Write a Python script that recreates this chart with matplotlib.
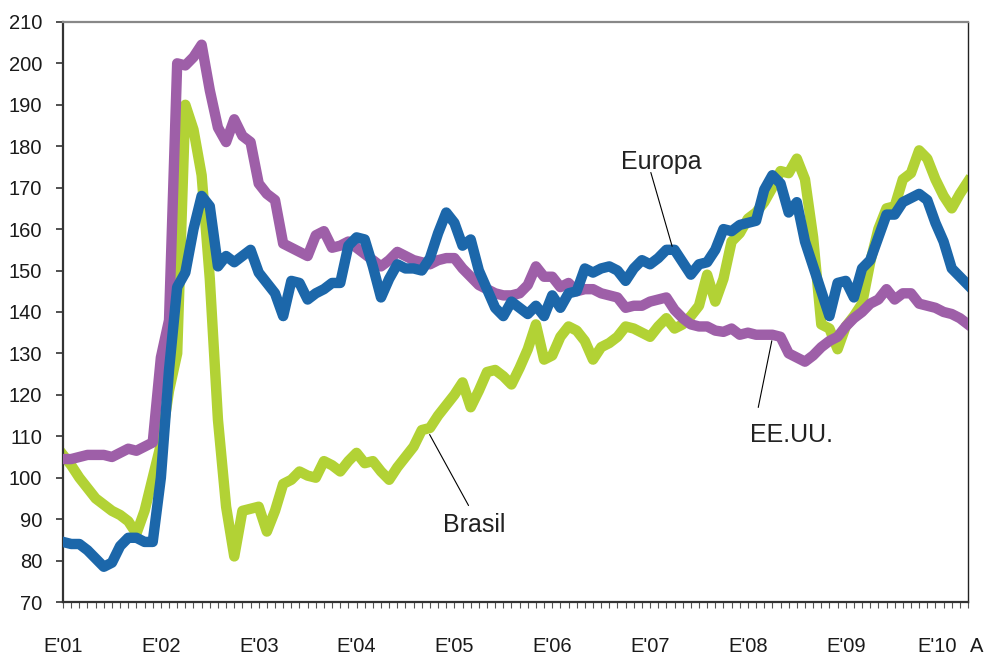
import numpy as np
import matplotlib
matplotlib.use("Agg")
import matplotlib.pyplot as plt
from matplotlib.ticker import FixedLocator
from matplotlib.transforms import ScaledTranslation

# Datos mensuales, enero 2001 - abril 2010
brasil = [105.5, 103, 100, 97.5, 95, 93.5, 92, 91, 89.5, 86.5,
          92, 100, 108, 121, 130, 190, 184, 173, 148, 114,
          93, 81, 92, 92.5, 93, 87, 92, 98.5, 99.5, 101.5,
          100.5, 100, 104, 103, 101.5, 104, 106, 103.5, 104, 101.5,
          99.5, 102.5, 105, 107.5, 111.5, 112, 115, 117.5, 120, 123,
          117, 121, 125.5, 126, 124.5, 122.5, 126.5, 131, 137, 128.5,
          129.5, 134, 136.5, 135.5, 133, 128.5, 131.5, 132.5, 134, 136.5,
          136, 135, 134, 136.5, 138.5, 136, 137, 139, 141.5, 149,
          142.5, 148, 157, 159, 162.5, 164, 166.5, 170, 174, 173.5,
          177, 172, 158, 137, 136, 131, 136.5, 139, 142, 152,
          160, 165, 165.5, 172, 173.5, 179, 177, 172, 168, 165,
          168.5, 171.5]

europa = [84.5, 84, 84, 82.5, 80.5, 78.5, 79.5, 83.5, 85.5, 85.5,
          84.5, 84.5, 100, 126, 146, 149.5, 160, 168, 165.5, 151,
          153.5, 152, 153.5, 155, 149.5, 147, 144.5, 139, 147.5, 147,
          143, 144.5, 145.5, 147, 147, 156, 158, 157.5, 151, 143.5,
          148, 151.5, 150.5, 150.5, 150, 153, 159, 164, 161.5, 156,
          157.5, 150, 145.5, 141, 139, 142.5, 141, 139.5, 141.5, 139,
          144, 141, 144.5, 145, 150.5, 149.5, 150.5, 151, 150, 147.5,
          150.5, 152.5, 151.5, 153, 155, 155, 152, 149, 151.5, 152,
          155, 160, 159.5, 161, 161.5, 162, 169.5, 173, 171, 164,
          166.5, 157, 151, 145, 139, 147, 147.5, 143.5, 150.5, 152.5,
          158, 163.5, 163.5, 166.5, 167.5, 168.5, 167, 161.5, 157, 150.5,
          148.5, 146.5]

eeuu = [104.5, 104.5, 105, 105.5, 105.5, 105.5, 105, 106, 107, 106.5,
        107.5, 108.5, 129, 138, 200, 199.5, 201.5, 204.5, 193.5, 184.5,
        181, 186.5, 182.5, 181, 171, 168.5, 167, 156.5, 155.5, 154.5,
        153.5, 158.5, 159.5, 155.5, 156, 157, 155.5, 154, 152.5, 151,
        152.5, 154.5, 153.5, 152.5, 152, 151.5, 152.5, 153, 153, 150.5,
        148.5, 146.5, 145.5, 144.5, 144, 144, 144.5, 146.5, 151, 148.5,
        148.5, 146, 147, 145, 145.5, 145.5, 144.5, 144, 143.5, 141,
        141.5, 141.5, 142.5, 143, 143.5, 140.5, 138.5, 137, 136.5, 136.5,
        135.5, 135.2, 136, 134.5, 135, 134.5, 134.5, 134.5, 134, 130,
        129, 128, 129.5, 131.5, 133, 134, 136.5, 138.5, 140, 142,
        143, 145.5, 143, 144.5, 144.5, 142, 141.5, 141, 140, 139.5,
        138.5, 137]

etiquetas_x = ["E'01", "E'02", "E'03", "E'04", "E'05", "E'06", "E'07",
               "E'08", "E'09", "E'10", "A"]
pos_etiquetas = [0, 12, 24, 36, 48, 60, 72, 84, 96, 108, 111]
ticks_y = list(range(70, 211, 10))

plt.rcParams['font.family'] = ['Liberation Sans', 'DejaVu Sans']

fig = plt.figure(figsize=(9.88, 6.54), dpi=100)
ax = fig.add_axes([0.0638, 0.0795, 0.916, 0.887])

meses = np.arange(len(brasil))
ax.plot(meses, brasil, color='#b2d235', lw=7.5, solid_joinstyle='round', zorder=2)
ax.plot(meses, eeuu, color='#9e5fa8', lw=7.5, solid_joinstyle='round', zorder=3)
ax.plot(meses, europa, color='#1c67aa', lw=7.5, solid_joinstyle='round', zorder=4)

ax.set_xlim(0, len(brasil) - 1)
ax.set_ylim(70, 210)
ax.set_yticks(ticks_y)
ax.tick_params(axis='y', labelsize=14.5, length=5, width=1.2, pad=10, color='#333333',
               labelcolor='#1a1a1a')

ax.xaxis.set_major_locator(FixedLocator(pos_etiquetas))
ax.set_xticklabels(etiquetas_x)
ax.xaxis.set_minor_locator(FixedLocator(meses))
ax.tick_params(axis='x', which='both', length=4, width=0.8, color='#555555')
ax.tick_params(axis='x', which='major', labelsize=14.5, pad=21, labelcolor='#1a1a1a')

# pequeño ajuste de las dos últimas etiquetas del eje x
etqs = ax.get_xticklabels()
etqs[-2].set_transform(etqs[-2].get_transform() + ScaledTranslation(-5 / 72, 0, fig.dpi_scale_trans))
etqs[-1].set_transform(etqs[-1].get_transform() + ScaledTranslation(6 / 72, 0, fig.dpi_scale_trans))

for lado in ['left', 'bottom']:
    ax.spines[lado].set_color('#333333')
    ax.spines[lado].set_linewidth(1.6)
ax.spines['top'].set_color('#888888')
ax.spines['top'].set_linewidth(1.6)
ax.spines['right'].set_color('#222222')
ax.spines['right'].set_linewidth(1.0)

# Rótulos de las series
linea = dict(arrowstyle='-', lw=0.8, color='black')
ax.annotate('', xy=(74.8, 155.2), xytext=(72.0, 174.3), arrowprops=linea, zorder=5)
ax.text(73.4, 173.4, 'Europa', fontsize=18, ha='center', va='bottom', color='#222222')
ax.annotate('', xy=(44.8, 111.0), xytext=(49.9, 92.7), arrowprops=linea, zorder=5)
ax.text(50.4, 91.6, 'Brasil', fontsize=18, ha='center', va='top', color='#222222')
ax.annotate('', xy=(87.0, 133.7), xytext=(85.2, 116.3), arrowprops=linea, zorder=5)
ax.text(89.3, 113.3, 'EE.UU.', fontsize=18, ha='center', va='top', color='#222222')

fig.savefig('out.png', dpi=100)
